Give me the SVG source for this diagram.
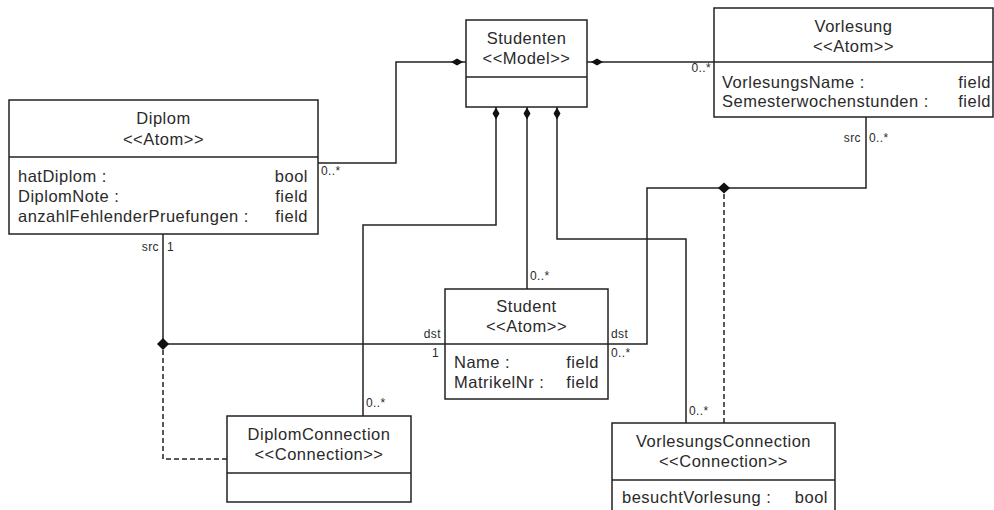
<svg xmlns="http://www.w3.org/2000/svg" width="994" height="510" viewBox="0 0 994 510">
  <defs>
    <style>
      .box { fill: #ffffff; stroke: #222; stroke-width: 1.5; }
      .sep { stroke: #222; stroke-width: 1.5; }
      .t { font-family: "Liberation Sans", Arial, sans-serif; font-size: 16.5px; letter-spacing: 0.5px; fill: #2a2a2a; }
      .c { text-anchor: middle; }
      .r { text-anchor: end; }
      .lbl { font-family: "Liberation Sans", Arial, sans-serif; font-size: 12px; letter-spacing: 0.4px; fill: #2a2a2a; }
      .wire { fill: none; stroke: #222; stroke-width: 1.5; }
      .dash { fill: none; stroke: #222; stroke-width: 1.5; stroke-dasharray: 5 3; }
      .dia { fill: #111; stroke: none; }
    </style>
  </defs>
  <rect width="994" height="510" fill="#ffffff"/>

  <!-- connectors -->
  <g id="connectors">
    <!-- Studenten to Diplom -->
    <path class="wire" d="M466,62 H396 V163 H318"/>
    <polygon class="dia" points="451,62 457,58.5 463,62 457,65.5"/>
    <!-- Studenten to Vorlesung -->
    <path class="wire" d="M587,62 H714"/>
    <polygon class="dia" points="591,62 597,58.5 603,62 597,65.5"/>
    <!-- Studenten to DiplomConnection -->
    <path class="wire" d="M496,107 V225 H363 V416"/>
    <polygon class="dia" points="496,107.5 499.5,113.5 496,119.5 492.5,113.5"/>
    <!-- Studenten to Student -->
    <path class="wire" d="M527,107 V289"/>
    <polygon class="dia" points="527,107.5 530.5,113.5 527,119.5 523.5,113.5"/>
    <!-- Studenten to VorlesungsConnection -->
    <path class="wire" d="M557,107 V239 H686 V423"/>
    <polygon class="dia" points="557,107.5 560.5,113.5 557,119.5 553.5,113.5"/>
    <!-- Diplom (src) to Student (dst) -->
    <path class="wire" d="M163,234 V344 H445"/>
    <polygon class="dia" points="157,344 163,338 169,344 163,350"/>
    <path class="dash" d="M163,350 V459 H227"/>
    <!-- Vorlesung (src) to Student (dst) -->
    <path class="wire" d="M866,117 V188 H647 V344 H608"/>
    <polygon class="dia" points="718,188 724,182.5 730,188 724,193.5"/>
    <path class="dash" d="M724,194 V423"/>

    <!-- multiplicities and roles -->
    <text class="lbl" x="321" y="175">0..*</text>
    <text class="lbl r" x="711" y="72">0..*</text>
    <text class="lbl r" x="861" y="142">src</text>
    <text class="lbl" x="869" y="142">0..*</text>
    <text class="lbl r" x="159" y="251">src</text>
    <text class="lbl" x="167" y="251">1</text>
    <text class="lbl" x="530" y="280">0..*</text>
    <text class="lbl r" x="441" y="338">dst</text>
    <text class="lbl r" x="439" y="357">1</text>
    <text class="lbl" x="611" y="338">dst</text>
    <text class="lbl" x="611" y="357">0..*</text>
    <text class="lbl" x="366" y="407">0..*</text>
    <text class="lbl" x="689" y="415">0..*</text>
  </g>

  <!-- Studenten -->
  <g id="studenten">
    <rect class="box" x="466" y="20" width="121" height="87"/>
    <line class="sep" x1="466" y1="77" x2="587" y2="77"/>
    <text class="t c" x="526.5" y="44">Studenten</text>
    <text class="t c" x="526.5" y="64">&lt;&lt;Model&gt;&gt;</text>
  </g>

  <!-- Diplom -->
  <g id="diplom">
    <rect class="box" x="9" y="100" width="309" height="134"/>
    <line class="sep" x1="9" y1="157" x2="318" y2="157"/>
    <text class="t c" x="163.5" y="124">Diplom</text>
    <text class="t c" x="163.5" y="145">&lt;&lt;Atom&gt;&gt;</text>
    <text class="t" x="18" y="182">hatDiplom :</text>
    <text class="t r" x="308" y="182">bool</text>
    <text class="t" x="18" y="202">DiplomNote :</text>
    <text class="t r" x="308" y="202">field</text>
    <text class="t" x="18" y="222">anzahlFehlenderPruefungen :</text>
    <text class="t r" x="308" y="222">field</text>
  </g>

  <!-- Vorlesung -->
  <g id="vorlesung">
    <rect class="box" x="714" y="8" width="279" height="109"/>
    <line class="sep" x1="714" y1="62" x2="993" y2="62"/>
    <text class="t c" x="853.5" y="32">Vorlesung</text>
    <text class="t c" x="853.5" y="52">&lt;&lt;Atom&gt;&gt;</text>
    <text class="t" x="722" y="88">VorlesungsName :</text>
    <text class="t r" x="991" y="88">field</text>
    <text class="t" x="722" y="107">Semesterwochenstunden :</text>
    <text class="t r" x="991" y="107">field</text>
  </g>

  <!-- Student -->
  <g id="student">
    <rect class="box" x="445" y="289" width="163" height="110"/>
    <line class="sep" x1="445" y1="344" x2="608" y2="344"/>
    <text class="t c" x="526.5" y="312">Student</text>
    <text class="t c" x="526.5" y="332">&lt;&lt;Atom&gt;&gt;</text>
    <text class="t" x="454" y="368">Name :</text>
    <text class="t r" x="599" y="368">field</text>
    <text class="t" x="454" y="388">MatrikelNr :</text>
    <text class="t r" x="599" y="388">field</text>
  </g>

  <!-- DiplomConnection -->
  <g id="diplomconnection">
    <rect class="box" x="227" y="416" width="184" height="86"/>
    <line class="sep" x1="227" y1="473" x2="411" y2="473"/>
    <text class="t c" x="319" y="440">DiplomConnection</text>
    <text class="t c" x="319" y="460">&lt;&lt;Connection&gt;&gt;</text>
  </g>

  <!-- VorlesungsConnection -->
  <g id="vorlesungsconnection">
    <rect class="box" x="612" y="423" width="223" height="100"/>
    <line class="sep" x1="612" y1="480" x2="835" y2="480"/>
    <text class="t c" x="723.5" y="447">VorlesungsConnection</text>
    <text class="t c" x="723.5" y="467">&lt;&lt;Connection&gt;&gt;</text>
    <text class="t" x="622" y="503">besuchtVorlesung :</text>
    <text class="t r" x="828" y="503">bool</text>
  </g>
</svg>
